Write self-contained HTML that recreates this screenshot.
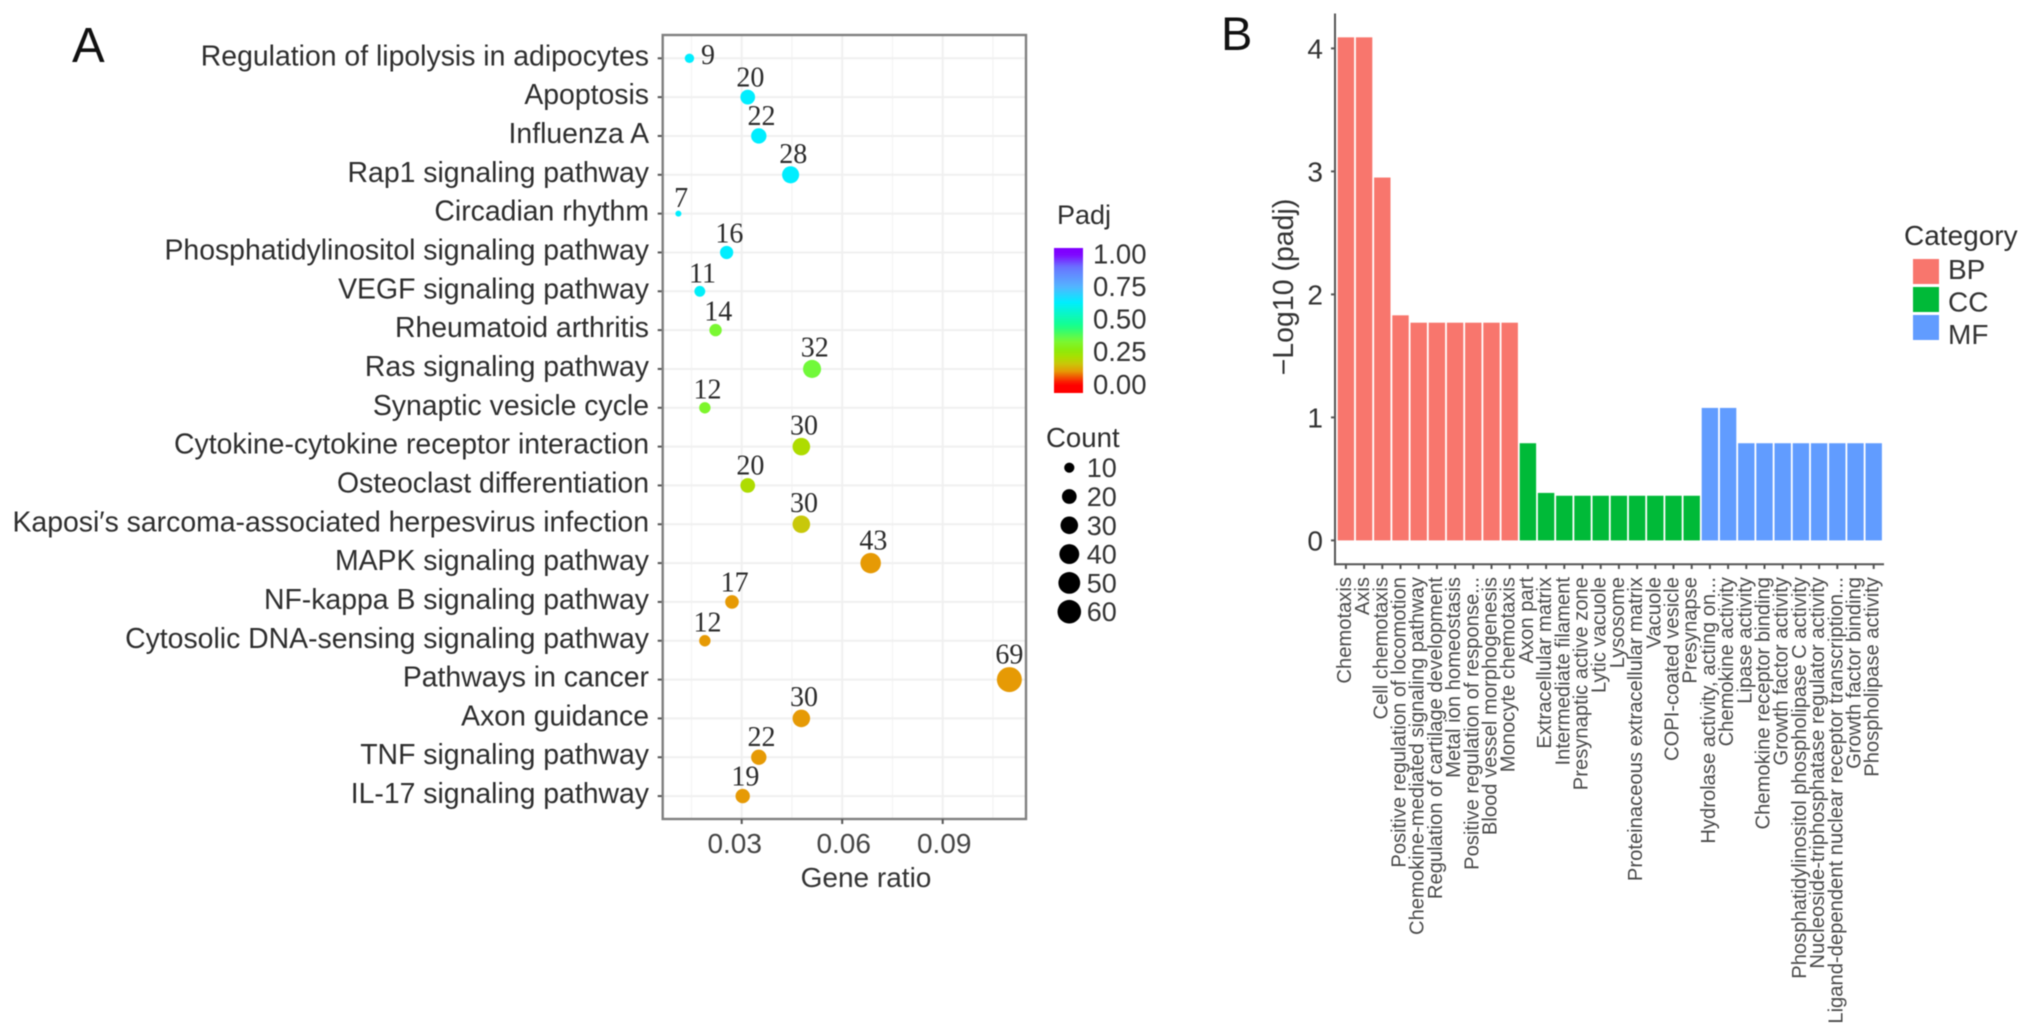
<!DOCTYPE html>
<html lang="en">
<head>
<meta charset="utf-8">
<title>KEGG dot plot and GO bar chart</title>
<style>
  html, body { margin: 0; padding: 0; background: #fff; }
  svg { display: block; font-family: "Liberation Sans", sans-serif; filter: blur(0.5px); }
  .serif { font-family: "Liberation Serif", serif; }
</style>
</head>
<body>
<svg id="figure" width="2032" height="1036" viewBox="0 0 2032 1036" xmlns="http://www.w3.org/2000/svg">
  <rect x="0" y="0" width="2032" height="1036" fill="#ffffff"/>
  <text x="72" y="62" font-size="49" fill="#111">A</text>
  <text x="1221" y="50" font-size="47" fill="#111">B</text>
  <g id="panelA"></g>
  <g id="padjLegend"></g>
  <g id="countLegend"></g>
  <g id="panelB"></g>
  <g id="categoryLegend"></g>
</svg>
<script>
// ---------- Panel A data ----------
const pathways = ["Regulation of lipolysis in adipocytes","Apoptosis","Influenza A","Rap1 signaling pathway","Circadian rhythm","Phosphatidylinositol signaling pathway","VEGF signaling pathway","Rheumatoid arthritis","Ras signaling pathway","Synaptic vesicle cycle","Cytokine-cytokine receptor interaction","Osteoclast differentiation","Kaposi\u2032s sarcoma-associated herpesvirus infection","MAPK signaling pathway","NF-kappa B signaling pathway","Cytosolic DNA-sensing signaling pathway","Pathways in cancer","Axon guidance","TNF signaling pathway","IL-17 signaling pathway"];
const geneRatio = [0.0144,0.0318,0.0351,0.0446,0.0111,0.0255,0.0175,0.0222,0.051,0.019,0.0478,0.0318,0.0478,0.0685,0.0271,0.019,0.1099,0.0478,0.0351,0.0303];
const counts = [9,20,22,28,7,16,11,14,32,12,30,20,30,43,17,12,69,30,22,19];
const padj = [0.63,0.63,0.63,0.63,0.63,0.63,0.62,0.33,0.34,0.32,0.2,0.2,0.16,0.1,0.1,0.1,0.1,0.1,0.1,0.1];
const xTicks = [0.03,0.06,0.09];
const xMinorTicks = [0.015,0.045,0.075,0.105];
const padjTicks = [1,0.75,0.5,0.25,0];
const padjTickLabels = ["1.00","0.75","0.50","0.25","0.00"];
const countLegendValues = [10,20,30,40,50,60];

// ---------- Panel B data ----------
const terms = ["Chemotaxis","Axis","Cell chemotaxis","Positive regulation of locomotion","Chemokine-mediated signaling pathway","Regulation of cartilage development","Metal ion homeostasis","Positive regulation of response...","Blood vessel morphogenesis","Monocyte chemotaxis","Axon part","Extracellular matrix","Intermediate filament","Presynaptic active zone","Lytic vacuole","Lysosome","Proteinaceous extracellular matrix","Vacuole","COPI-coated vesicle","Presynapse","Hydrolase activity, acting on...","Chemokine activity","Lipase activity","Chemokine receptor binding","Growth factor activity","Phosphatidylinositol phospholipase C activity","Nucleoside-triphosphatase regulator activity","Ligand-dependent nuclear receptor transcription...","Growth factor binding","Phospholipase activity"];
const logPadj = [4.09,4.09,2.95,1.83,1.77,1.77,1.77,1.77,1.77,1.77,0.79,0.386,0.363,0.363,0.363,0.363,0.363,0.363,0.363,0.363,1.077,1.077,0.79,0.79,0.79,0.79,0.79,0.79,0.79,0.79];
const termCategory = ["BP","BP","BP","BP","BP","BP","BP","BP","BP","BP","CC","CC","CC","CC","CC","CC","CC","CC","CC","CC","MF","MF","MF","MF","MF","MF","MF","MF","MF","MF"];
const categories = ["BP","CC","MF"];
const categoryColors = {BP:"#F8766D",CC:"#00BA38",MF:"#619CFF"};
const yTicksB = [0,1,2,3,4];

// ---------- Scales ----------
const NS = "http://www.w3.org/2000/svg";
function make(parent, tag, attrs, text) {
  const node = document.createElementNS(NS, tag);
  for (const k in attrs) node.setAttribute(k, attrs[k]);
  if (text !== undefined) node.textContent = text;
  parent.appendChild(node);
  return node;
}
const xA = v => 741.7 + (v - 0.03) * 3350;
const yA = i => 58.3 + i * 38.83;
const minCount = 7, maxCount = 69;
const rA = c => 3 + 9.5 * Math.sqrt((c - minCount) / (maxCount - minCount));
const colorStops = [[0,[255,0,0]],[0.1,[230,154,5]],[0.16,[200,200,10]],[0.2,[174,220,0]],[0.26,[140,235,10]],[0.33,[122,248,50]],[0.45,[20,255,140]],[0.63,[0,238,255]],[0.75,[85,180,255]],[0.9,[105,115,255]],[1,[128,0,255]]];
function padjColor(v) {
  const t = Math.max(0, Math.min(1, v));
  for (let i = 1; i < colorStops.length; i++) {
    if (t <= colorStops[i][0]) {
      const a = colorStops[i-1], b = colorStops[i];
      const f = (t - a[0]) / (b[0] - a[0]);
      const c = a[1].map((p, k) => Math.round(p + (b[1][k] - p) * f));
      return "rgb(" + c.join(",") + ")";
    }
  }
  return "rgb(128,0,255)";
}

// ---------- Panel A ----------
const A = document.getElementById("panelA");
const L = 662.7, R = 1026, T = 35, B = 819;
xMinorTicks.forEach(v => {
  const g = make(A, "line", {x1:xA(v), x2:xA(v), y1:T, y2:B, stroke:"#f5f5f5", "stroke-width":1.5});
  
  
});
xTicks.forEach(v => {
  const g = make(A, "line", {x1:xA(v), x2:xA(v), y1:T, y2:B, stroke:"#f0f0f0", "stroke-width":2});
  
  
});
pathways.forEach((name, i) => {
  const g = make(A, "line", {x1:L, x2:R, y1:yA(i), y2:yA(i), stroke:"#f0f0f0", "stroke-width":2});
  
  
  const t = make(A, "line", {x1:L-5, x2:L, y1:yA(i), y2:yA(i), stroke:"#555", "stroke-width":2});
  
  
  const lab = make(A, "text", {x:649, y:yA(i)+7, "text-anchor":"end", "font-size":28.4, fill:"#2e2e2e"}, name);
  
  
});
const frame = make(A, "rect", {x:L, y:T, width:R-L, height:B-T, fill:"none", stroke:"#808080", "stroke-width":2.4});


xTicks.forEach(v => {
  const t = make(A, "line", {x1:xA(v), x2:xA(v), y1:B, y2:B+5, stroke:"#555", "stroke-width":2});
  
  
  const lab = make(A, "text", {x:xA(v) + (v < 0.04 ? -7 : 1.5), y:853, "text-anchor":"middle", "font-size":28, fill:"#444"}, v.toFixed(2));
  
  
});
const xTitle = make(A, "text", {x:866, y:887, "text-anchor":"middle", "font-size":28, fill:"#333"}, "Gene ratio");



geneRatio.forEach((v, i) => {
  const cx = xA(v), cy = yA(i), r = rA(counts[i]);
  const dot = make(A, "circle", {cx:cx, cy:cy, r:r, fill:padjColor(padj[i])});
  
  
  let lx = cx + 2.7, ly = cy - r - 3.5;
  if (i === 0) { lx = cx + 18.5; ly = cy + 5.5; }
  if (counts[i] === maxCount) { lx = cx; }
  const lab = make(A, "text", {x:lx, y:ly, "text-anchor":"middle", "font-size":28, fill:"#2b2b2b", class:"serif"}, counts[i]);
  
  
});

// ---------- Padj legend ----------
const PL = document.getElementById("padjLegend");
const padjY = v => 384.3 - v * 130.3;
const defs = make(PL, "defs", {});
const grad = make(defs, "linearGradient", {id:"padjGrad", x1:0, y1:1, x2:0, y2:0});
for (let s = 0; s <= 40; s++) {
  const f = s / 40;
  const val = (384.3 - (393 - f * 145)) / 130.3;
  make(grad, "stop", {offset:f, "stop-color":padjColor(val)});
}
const padjTitle = make(PL, "text", {x:1057, y:224, "font-size":27, fill:"#2e2e2e"}, "Padj");


const bar = make(PL, "rect", {x:1054, y:248, width:29, height:145, fill:"url(#padjGrad)"});


padjTicks.forEach((v, i) => {
  const lab = make(PL, "text", {x:1093, y:padjY(v)+9.5, "font-size":27.5, fill:"#333"}, padjTickLabels[i]);
  
  
});

// ---------- Count legend ----------
const CL = document.getElementById("countLegend");
const countTitle = make(CL, "text", {x:1046, y:447, "font-size":27.6, fill:"#2e2e2e"}, "Count");


countLegendValues.forEach((c, i) => {
  const y = 467.7 + i * 28.8;
  const dot = make(CL, "circle", {cx:1069.3, cy:y, r:rA(c), fill:"#000"});
  
  
  const lab = make(CL, "text", {x:1086.7, y:y+9.5, "font-size":27, fill:"#333"}, c);
  
  
});

// ---------- Panel B ----------
const PB = document.getElementById("panelB");
const xB = i => 1345.9 + i * 18.2;
const yB = v => 540.4 - v * 123;
const barW = 16.4;
logPadj.forEach((v, i) => {
  const rect = make(PB, "rect", {x:xB(i)-barW/2, y:yB(v), width:barW, height:yB(0)-yB(v), fill:categoryColors[termCategory[i]]});
  
  
});
const yAxis = make(PB, "line", {x1:1335, x2:1335, y1:13.5, y2:565.3, stroke:"#555", "stroke-width":2});


const xAxis = make(PB, "line", {x1:1334, x2:1884, y1:564.3, y2:564.3, stroke:"#555", "stroke-width":2});


yTicksB.forEach(v => {
  const t = make(PB, "line", {x1:1331, x2:1335, y1:yB(v), y2:yB(v), stroke:"#555", "stroke-width":2});
  
  
  const lab = make(PB, "text", {x:1323, y:yB(v)+10, "text-anchor":"end", "font-size":28, fill:"#333"}, v);
  
  
});
terms.forEach((name, i) => {
  const t = make(PB, "line", {x1:xB(i), x2:xB(i), y1:565, y2:569, stroke:"#555", "stroke-width":2});
  
  
  const bx = xB(i) + 5, by = 577;
  const lab = make(PB, "text", {x:bx, y:by, transform:"rotate(-90 " + bx + " " + by + ")", "text-anchor":"end", "font-size":20.2, fill:"#4a4a4a"}, name);
  
  
});
const yTitle = make(PB, "text", {x:1293, y:287, transform:"rotate(-90 1293 287)", "text-anchor":"middle", "font-size":28.5, fill:"#333"}, "\u2212Log10 (padj)");



// ---------- Category legend ----------
const CAT = document.getElementById("categoryLegend");
const catTitle = make(CAT, "text", {x:1904, y:245, "font-size":28, fill:"#2e2e2e"}, "Category");


categories.forEach((c, i) => {
  const sw = make(CAT, "rect", {x:1913, y:259+i*28, width:26, height:25, fill:categoryColors[c]});
  
  
  const lab = make(CAT, "text", {x:1948, y:279+i*32.6, "font-size":28, fill:"#333"}, c);
  
  
});
</script>
</body>
</html>
